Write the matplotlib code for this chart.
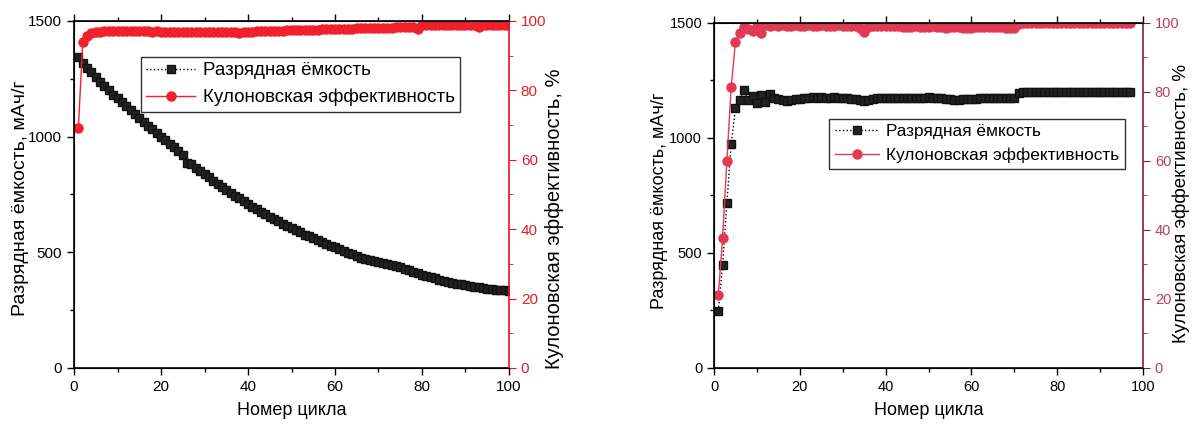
import matplotlib
matplotlib.use('Agg')
import matplotlib.pyplot as plt
from matplotlib.ticker import MultipleLocator

plt.rcParams['font.family'] = ['Liberation Sans', 'DejaVu Sans']

# --- left panel: capacity fades over 100 cycles ---
cycles_left = list(range(1, 101))
capacity_left = [
    1344, 1320, 1298, 1278, 1258, 1238, 1218, 1200, 1182, 1165,
    1148, 1131, 1114, 1097, 1080, 1064, 1048, 1032, 1016, 1000,
    985, 970, 955, 940, 922, 885, 880, 866, 852, 838,
    824, 810, 797, 784, 771, 758, 745, 733, 721, 709,
    698, 687, 676, 665, 654, 644, 634, 624, 614, 604,
    595, 586, 577, 569, 561, 553, 545, 537, 529, 521,
    513, 506, 499, 492, 482, 477, 472, 467, 462, 457,
    453, 449, 445, 441, 436, 430, 424, 417, 410, 403,
    397, 392, 387, 382, 377, 373, 369, 365, 361, 357,
    354, 351, 348, 345, 343, 341, 339, 337, 335, 332]
ce_left = [
    69.2, 94.0, 95.8, 96.4, 96.7, 96.9, 97.0, 97.1, 97.1, 97.1,
    97.2, 97.1, 97.1, 97.0, 97.1, 97.0, 97.0, 96.9, 97.0, 96.9,
    96.9, 96.9, 96.8, 96.9, 96.8, 96.9, 96.8, 96.8, 96.9, 96.8,
    96.8, 96.9, 96.8, 96.8, 96.7, 96.8, 96.7, 96.6, 96.8, 96.9,
    96.9, 97.0, 97.0, 97.1, 97.1, 97.1, 97.2, 97.2, 97.3, 97.3,
    97.3, 97.4, 97.4, 97.4, 97.5, 97.5, 97.6, 97.6, 97.7, 97.7,
    97.7, 97.8, 97.8, 97.8, 97.9, 97.9, 97.9, 98.0, 98.0, 98.0,
    98.1, 98.1, 98.1, 98.2, 98.2, 98.2, 98.3, 98.3, 97.6, 98.8,
    98.8, 98.8, 98.8, 98.9, 98.8, 98.8, 98.8, 98.9, 98.8, 98.8,
    98.8, 98.8, 98.2, 98.8, 98.8, 98.8, 98.9, 98.8, 98.8, 98.8]

# --- right panel: capacity rises, then stays flat ---
cycles_right = list(range(1, 98))
capacity_right = [
    249, 447, 718, 972, 1128, 1164, 1208, 1165, 1182, 1150,
    1185, 1158, 1190, 1172, 1170, 1166, 1160, 1163, 1168, 1170,
    1172, 1175, 1176, 1174, 1176, 1175, 1174, 1176, 1175, 1173,
    1172, 1170, 1168, 1165, 1160, 1166, 1170, 1172, 1173, 1172,
    1174, 1173, 1172, 1174, 1175, 1174, 1173, 1174, 1175, 1176,
    1175, 1174, 1173, 1170, 1168, 1166, 1165, 1167, 1168, 1170,
    1171, 1172, 1173, 1174, 1173, 1172, 1173, 1174, 1172, 1175,
    1195, 1198, 1200, 1200, 1200, 1200, 1200, 1200, 1200, 1200,
    1200, 1200, 1200, 1200, 1200, 1200, 1200, 1200, 1200, 1200,
    1200, 1200, 1200, 1200, 1200, 1200, 1200]
ce_right = [
    21.1, 37.6, 60.0, 81.3, 94.5, 97.1, 98.8, 98.2, 97.5, 99.0,
    97.1, 99.3, 99.2, 99.3, 99.2, 99.3, 99.1, 99.2, 99.3, 99.2,
    99.1, 99.3, 99.2, 99.2, 99.3, 99.2, 99.1, 99.2, 99.3, 99.2,
    99.1, 99.2, 99.2, 98.6, 97.3, 98.8, 99.1, 99.2, 99.2, 99.1,
    99.2, 99.1, 99.0, 98.9, 98.8, 98.9, 99.0, 98.8, 98.7, 98.8,
    99.0, 98.9, 98.7, 98.6, 98.8, 98.9, 98.7, 98.5, 98.4, 98.6,
    98.8, 98.9, 98.8, 98.7, 98.8, 98.9, 98.8, 98.6, 98.4, 98.6,
    99.8, 99.9, 99.9, 99.9, 99.9, 99.9, 99.9, 99.9, 99.9, 99.9,
    99.9, 99.9, 99.9, 99.9, 99.9, 99.9, 99.9, 99.9, 99.9, 99.9,
    99.9, 99.9, 99.9, 99.9, 99.9, 99.9, 99.9]

label_cap = 'Разрядная ёмкость'
label_ce = 'Кулоновская эффективность'
xlabel = 'Номер цикла'
ylabel_left = 'Разрядная ёмкость, мАч/г'
ylabel_right = 'Кулоновская эффективность, %'


def draw_panel(rect, cycles, cap, ce, red, red_axis, red_labels, fs, lab_fs,
               leg_fs, leg_loc, ylab_pos, y2lab_pos):
    ax = fig.add_axes(rect)
    ax2 = ax.twinx()

    l1, = ax.plot(cycles, cap, color='black', ls=':', lw=1.0, marker='s',
                  ms=6, mfc='#222222', mec='#111111', label=label_cap)
    l2, = ax2.plot(cycles, ce, color=red, ls='-', lw=1.0, marker='o',
                   ms=6.5, mfc=red, mec=red, label=label_ce)

    ax.set_xlim(0, 100)
    ax.set_ylim(0, 1500)
    ax2.set_ylim(0, 100)
    ax.xaxis.set_major_locator(MultipleLocator(20))
    ax.xaxis.set_minor_locator(MultipleLocator(10))
    ax.yaxis.set_major_locator(MultipleLocator(500))
    ax.yaxis.set_minor_locator(MultipleLocator(250))
    ax2.yaxis.set_major_locator(MultipleLocator(20))
    ax2.yaxis.set_minor_locator(MultipleLocator(10))

    ax.tick_params(axis='both', which='both', direction='out', labelsize=fs,
                   top=True, width=1)
    ax.tick_params(axis='x', which='major', length=5)
    ax.tick_params(axis='x', which='minor', length=3)
    ax.tick_params(axis='y', which='major', length=5)
    ax.tick_params(axis='y', which='minor', length=3)
    ax2.tick_params(axis='y', which='both', direction='out', colors=red_axis,
                    labelcolor=red_labels, labelsize=fs)
    ax2.tick_params(axis='y', which='major', length=5)
    ax2.tick_params(axis='y', which='minor', length=3)
    ax2.spines['right'].set_color(red_axis)
    ax2.spines['right'].set_linewidth(1.2)
    for s in ['left', 'bottom', 'top']:
        ax.spines[s].set_linewidth(1.2)
    ax.spines['right'].set_visible(False)

    ax.set_xlabel(xlabel, fontsize=13, labelpad=6)
    ax.set_ylabel(ylabel_left, fontsize=lab_fs)
    ax.yaxis.set_label_coords(*ylab_pos)
    ax2.set_ylabel(ylabel_right, fontsize=lab_fs + 0.5, color='black')
    ax2.yaxis.set_label_coords(*y2lab_pos)

    leg = ax2.legend([l1, l2], [label_cap, label_ce], loc='upper left',
                     bbox_to_anchor=leg_loc, fontsize=leg_fs, frameon=True,
                     fancybox=False, edgecolor='black', borderpad=0.3,
                     handlelength=2.6, handletextpad=0.4, labelspacing=0.5)
    leg.get_frame().set_linewidth(1.0)
    return ax, ax2


fig = plt.figure(figsize=(11.92, 4.24), dpi=100)

draw_panel([0.0621, 0.1321, 0.3649, 0.8184], cycles_left, capacity_left, ce_left,
           '#f0202c', '#f01020', '#e0202a', 11, 14, 13.5,
           (0.132, 0.924), (-0.103, 0.49), (1.083, 0.43))
draw_panel([0.599, 0.1321, 0.3599, 0.814], cycles_right, capacity_right, ce_right,
           '#e23a55', '#8a1a38', '#c03a5c', 10.5, 13, 12.4,
           (0.249, 0.746), (-0.108, 0.484), (1.068, 0.478))

fig.savefig('out.png', dpi=100)
